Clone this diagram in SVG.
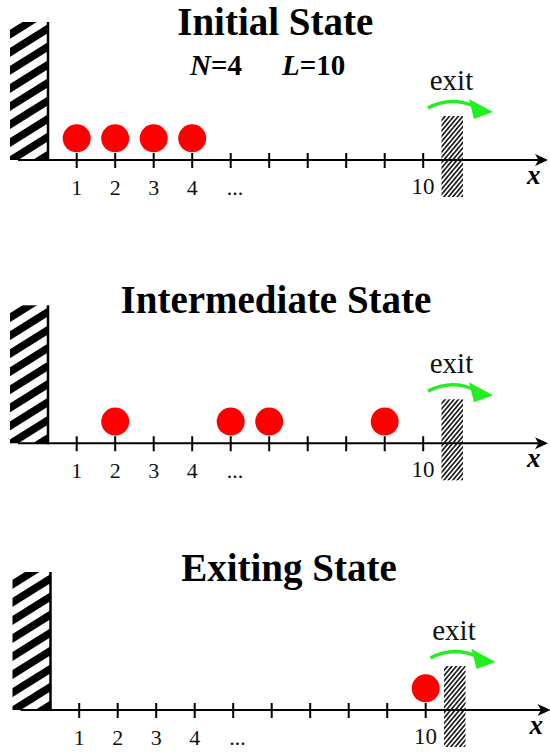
<svg xmlns="http://www.w3.org/2000/svg" width="550" height="753" viewBox="0 0 550 753">
<style>
.title{font-family:"Liberation Serif",serif;font-weight:bold;font-size:39px;text-anchor:middle;fill:#000}
.num{font-family:"Liberation Serif",serif;font-size:22px;text-anchor:middle;fill:#111}
.ten{font-family:"Liberation Serif",serif;font-size:23px;text-anchor:middle;fill:#111}
.exit{font-family:"Liberation Serif",serif;font-size:29px;text-anchor:middle;fill:#111}
.xl{font-family:"Liberation Serif",serif;font-weight:bold;font-style:italic;font-size:27px;text-anchor:start;fill:#000}
.param{font-family:"Liberation Serif",serif;font-weight:bold;font-size:29px;fill:#000}
.axis{stroke:#000;stroke-width:2;fill:none}
.tick{stroke:#000;stroke-width:2}
.p{fill:#ff0000}
.green{stroke:#22ee22;stroke-width:3.5;fill:none}
</style>
<defs>
<pattern id="wallHatch" patternUnits="userSpaceOnUse" width="20" height="15.3" patternTransform="rotate(-32)">
<rect x="0" y="0" width="20" height="7.6" fill="#000"/>
</pattern>
<pattern id="exitHatch" patternUnits="userSpaceOnUse" width="10" height="3.4" patternTransform="rotate(-50)">
<rect x="0" y="0" width="10" height="1.6" fill="#111"/>
</pattern>
<g id="axisBase">
<path class="axis" d="M18,160 H541"/>
<path d="M548,160 L535,154 L538.5,160 L535,166 Z" fill="#000"/>
<path class="tick" d="M76.7,153v15M115.2,153v15M153.7,153v15M192.2,153v15M230.7,153v15M269.2,153v15M307.7,153v15M346.2,153v15M384.7,153v15M423.2,153v15"/>
</g>
<g id="wallShape">
<rect x="10" y="22" width="37.5" height="138" fill="url(#wallHatch)"/>
<path d="M48,22V161" stroke="#000" stroke-width="2.5"/>
</g>
<g id="gateShape">
<rect x="441.5" y="116" width="21.5" height="81" fill="url(#exitHatch)"/>
<path class="green" d="M428,108 Q450,96 474,106"/>
<path d="M493,112 L469,99 L474,119 Z" fill="#22ee22"/>
</g>
</defs>

<g id="panel-initial">
<text class="title" x="275.3" y="34.5">Initial State</text>
<text class="param" x="190" y="75"><tspan font-style="italic">N</tspan>=4</text>
<text class="param" x="282" y="75"><tspan font-style="italic">L</tspan>=10</text>
<g id="wall-1"><use href="#wallShape"/></g>
<g id="axis-1"><use href="#axisBase"/></g>
<g id="exit-1"><use href="#gateShape"/><text class="exit" x="451.5" y="90">exit</text></g>
<g id="particles-1">
<circle class="p" cx="76.7" cy="138.3" r="14"/>
<circle class="p" cx="115.2" cy="138.3" r="14"/>
<circle class="p" cx="153.7" cy="138.3" r="14"/>
<circle class="p" cx="192.2" cy="138.3" r="14"/>
</g>
<g id="labels-1">
<text class="num" x="76.7" y="195">1</text>
<text class="num" x="115.2" y="195">2</text>
<text class="num" x="153.7" y="195">3</text>
<text class="num" x="192.2" y="195">4</text>
<text class="num" x="235" y="195">...</text>
<text class="ten" x="423" y="194">10</text>
<text class="xl" x="527" y="184">x</text>
</g>
</g>

<g id="panel-intermediate" transform="translate(0,283.3)">
<text class="title" x="276" y="30">Intermediate State</text>
<g id="wall-2"><use href="#wallShape"/></g>
<g id="axis-2"><use href="#axisBase"/></g>
<g id="exit-2"><use href="#gateShape"/><text class="exit" x="451.5" y="90">exit</text></g>
<g id="particles-2">
<circle class="p" cx="115.2" cy="138.3" r="14"/>
<circle class="p" cx="230.7" cy="138.3" r="14"/>
<circle class="p" cx="269.2" cy="138.3" r="14"/>
<circle class="p" cx="384.7" cy="138.3" r="14"/>
</g>
<g id="labels-2">
<text class="num" x="76.7" y="195">1</text>
<text class="num" x="115.2" y="195">2</text>
<text class="num" x="153.7" y="195">3</text>
<text class="num" x="192.2" y="195">4</text>
<text class="num" x="235" y="195">...</text>
<text class="ten" x="423" y="194">10</text>
<text class="xl" x="527" y="184">x</text>
</g>
</g>

<g id="panel-exiting" transform="translate(2.5,550)">
<text class="title" x="286.5" y="31">Exiting State</text>
<g id="wall-3"><use href="#wallShape"/></g>
<g id="axis-3"><use href="#axisBase"/></g>
<g id="exit-3"><use href="#gateShape"/><text class="exit" x="451.5" y="90">exit</text></g>
<g id="particles-3">
<circle class="p" cx="423.2" cy="138.3" r="14"/>
</g>
<g id="labels-3">
<text class="num" x="76.7" y="195">1</text>
<text class="num" x="115.2" y="195">2</text>
<text class="num" x="153.7" y="195">3</text>
<text class="num" x="192.2" y="195">4</text>
<text class="num" x="235" y="195">...</text>
<text class="ten" x="423" y="194">10</text>
<text class="xl" x="527" y="184">x</text>
</g>
</g>
</svg>
